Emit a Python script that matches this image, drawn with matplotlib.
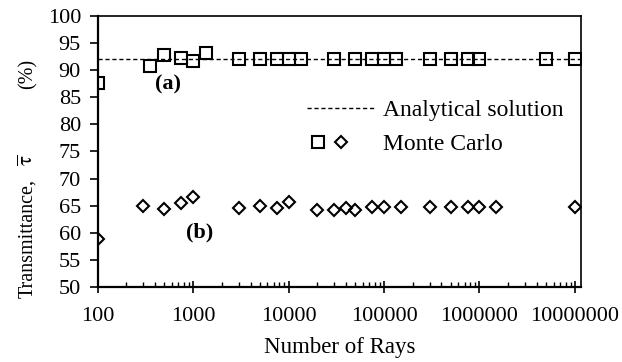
import matplotlib
matplotlib.use("Agg")
import matplotlib.pyplot as plt
from matplotlib.lines import Line2D
from matplotlib.legend_handler import HandlerTuple
from matplotlib.ticker import LogLocator, FixedLocator, NullFormatter

plt.rcParams['font.family'] = ['Liberation Serif', 'DejaVu Serif']
plt.rcParams['mathtext.fontset'] = 'stix'

# (a) squares
rays_a = [100, 350, 500, 750, 1000, 1350, 3000, 5000, 7500, 10000, 13500,
          30000, 50000, 75000, 100000, 135000, 300000, 500000, 750000,
          1000000, 5000000, 10000000]
tau_a = [87.7, 90.8, 92.8, 92.2, 91.6, 93.2, 92.1, 92.1, 92.0, 92.1, 92.1,
         92.1, 92.1, 92.1, 92.1, 92.1, 92.1, 92.1, 92.1, 92.1, 92.1, 92.1]

# (b) diamonds
rays_b = [100, 300, 500, 750, 1000, 3000, 5000, 7500, 10000, 20000, 30000,
          40000, 50000, 75000, 100000, 150000, 300000, 500000, 750000,
          1000000, 1500000, 10000000]
tau_b = [58.8, 65.0, 64.4, 65.5, 66.7, 64.6, 65.0, 64.6, 65.7, 64.2, 64.2,
         64.5, 64.3, 64.7, 64.7, 64.7, 64.7, 64.7, 64.7, 64.7, 64.7, 64.7]

analytical = 92.1

xticks = [100, 1000, 10000, 100000, 1000000, 10000000]
xticklabels = ['100', '1000', '10000', '100000', '1000000', '10000000']
yticks = list(range(50, 101, 5))

W, H = 622, 362
fig = plt.figure(figsize=(W / 100, H / 100), dpi=100)
ax = fig.add_axes([0.157, 0.207, 0.777, 0.749])

ax.axhline(analytical, color='black', linestyle=(0, (3, 2)), linewidth=1.0, zorder=1)
ax.plot(rays_a, tau_a, linestyle='none', marker='s', markersize=8,
        markerfacecolor='none', markeredgecolor='black', markeredgewidth=1.5, zorder=3)
ax.plot(rays_b, tau_b, linestyle='none', marker='D', markersize=6,
        markerfacecolor='none', markeredgecolor='black', markeredgewidth=1.5, zorder=3)

ax.set_xscale('log')
ax.set_xlim(100, 1.156e7)
ax.set_ylim(50, 100)
ax.xaxis.set_major_locator(FixedLocator(xticks))
ax.set_xticklabels(xticklabels)
ax.xaxis.set_minor_locator(LogLocator(base=10, subs=range(2, 10)))
ax.xaxis.set_minor_formatter(NullFormatter())
ax.set_yticks(yticks)
ax.set_yticklabels([str(v) for v in yticks])

ax.tick_params(axis='x', which='major', direction='inout', length=9, width=1.2,
               labelsize=16, pad=10, top=False)
ax.tick_params(axis='x', which='minor', direction='in', length=3.5, width=1.0, top=False)
ax.tick_params(axis='y', which='major', direction='out', length=5.5, width=1.2,
               labelsize=16, pad=6.5, right=False)
for side in ['left', 'bottom']:
    ax.spines[side].set_linewidth(1.6)
for side in ['top', 'right']:
    ax.spines[side].set_linewidth(1.2)

ax.set_xlabel('Number of Rays', fontsize=16.5, labelpad=8)

# y label pieces (with the wide spacing of the original)
fig.text(28 / W, 1 - 238 / H, 'Transmittance,', rotation=90, fontsize=14.5,
         ha='center', va='center')
fig.text(28 / W, 1 - 160 / H, r'$\overline{\mathrm{\tau}}$', rotation=90, fontsize=15,
         ha='center', va='center')
fig.text(28 / W, 1 - 74 / H, '(%)', rotation=90, fontsize=14.5,
         ha='center', va='center')

ax.text(547, 87.4, '(a)', fontsize=16, fontweight='bold', ha='center', va='center')
ax.text(1183, 60.1, '(b)', fontsize=16, fontweight='bold', ha='center', va='center')

h_line = Line2D([], [], color='black', linestyle=(0, (3, 2)), linewidth=1.0)
h_sq = Line2D([], [], linestyle='none', marker='s', markersize=8,
              markerfacecolor='none', markeredgecolor='black', markeredgewidth=1.5)
h_di = Line2D([], [], linestyle='none', marker='D', markersize=6,
              markerfacecolor='none', markeredgecolor='black', markeredgewidth=1.5)
h_empty = Line2D([], [], linestyle='none')
ax.legend([h_line, (h_sq, h_di, h_empty)], ['Analytical solution', 'Monte Carlo'],
          handler_map={tuple: HandlerTuple(ndivide=None, pad=0)},
          loc='center left', bbox_to_anchor=(0.433, 0.589), frameon=False,
          fontsize=17, handlelength=2.9, handletextpad=0.34, labelspacing=0.51,
          borderpad=0, borderaxespad=0, numpoints=1)

fig.savefig('out.png', dpi=100)
